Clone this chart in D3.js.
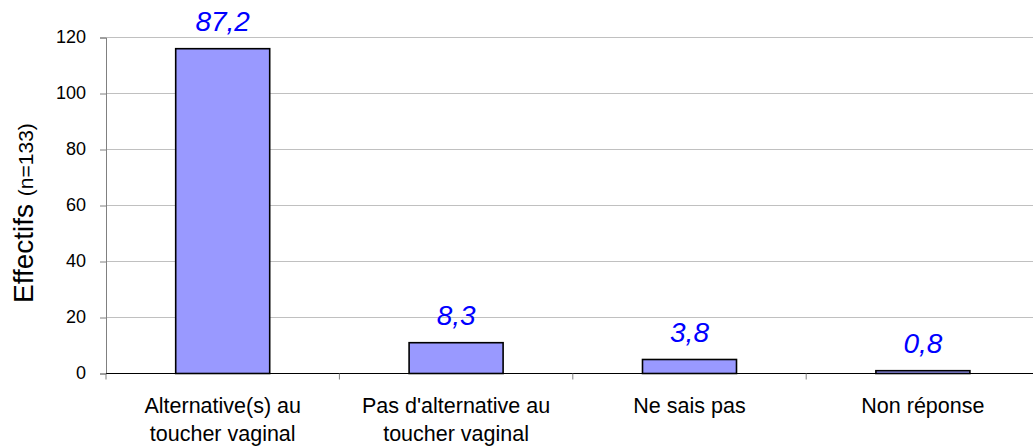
<!DOCTYPE html>
<html><head><meta charset="utf-8">
<script src="https://cdn.jsdelivr.net/npm/d3@7"></script>
<style>body{margin:0;background:#fff}svg{display:block}text{font-family:"Liberation Sans",Arial,sans-serif}</style>
</head><body><svg id="c" width="1033" height="448"></svg>
<script>
const categories = [["Alternative(s) au","toucher vaginal"],["Pas d'alternative au","toucher vaginal"],["Ne sais pas"],["Non réponse"]];
const counts = [116, 11, 5, 1];
const percentLabels = ["87,2","8,3","3,8","0,8"];
const yTicks = [0,20,40,60,80,100,120];

const svg = d3.select("#c");
const x0 = 106, bandW = 233.4, y0 = 373.5, yTop = 37.5;
const x = d3.scaleBand().domain(d3.range(categories.length)).range([x0, x0 + bandW*4]).paddingInner(0).paddingOuter(0);
const y = d3.scaleLinear().domain([0,120]).range([y0, yTop]);

// gridlines
svg.append("g").selectAll("line").data(yTicks.filter(d=>d>0)).join("line")
  .attr("x1", x0).attr("x2", 1033).attr("y1", d=>y(d)).attr("y2", d=>y(d))
  .attr("stroke", "#c0c0c0").attr("stroke-width", 1);

// y axis
const ya = svg.append("g").attr("transform", `translate(${x0},0)`)
  .call(d3.axisLeft(y).tickValues(yTicks).tickSize(6).tickPadding(14));
ya.select(".domain").attr("stroke", "#808080");
ya.selectAll(".tick line").attr("stroke", "#808080");
ya.selectAll("text").attr("font-size", 18).attr("fill", "#000").attr("dy", "0.3em").style("font-family", '"Liberation Sans",Arial,sans-serif');

// bars
const bw = 94;
svg.append("g").selectAll("rect").data(counts).join("rect")
  .attr("x", (d,i)=>x(i) + x.bandwidth()/2 - bw/2)
  .attr("width", bw)
  .attr("y", d=>y(d))
  .attr("height", d=>y0 - y(d))
  .attr("fill", "#9999ff").attr("stroke", "#000").attr("stroke-width", 1.6);

// x axis
const xa = svg.append("g").attr("transform", `translate(0,${y0})`);
xa.append("line").attr("x1", x0).attr("x2", 1033).attr("y1", 0).attr("y2", 0).attr("stroke", "#000").attr("stroke-width", 1);
xa.selectAll("line.t").data(d3.range(categories.length+1)).join("line").attr("class","t")
  .attr("x1", i=>x0 + i*x.step()).attr("x2", i=>x0 + i*x.step()).attr("y1", 0).attr("y2", 6)
  .attr("stroke", "#808080");

// category labels
svg.append("g").selectAll("text").data(categories).join("text")
  .attr("x", (d,i)=>x(i) + x.bandwidth()/2)
  .attr("y", 413)
  .attr("text-anchor", "middle").attr("font-size", 21.5).attr("fill", "#000")
  .each(function(d){
    const t = d3.select(this);
    d.forEach((line,k)=>t.append("tspan").attr("x", t.attr("x")).attr("dy", k===0?0:28).text(line));
  });

// value labels
svg.append("g").selectAll("text").data(counts).join("text")
  .attr("x", (d,i)=>x(i) + x.bandwidth()/2)
  .attr("y", d=>y(d) - 18)
  .attr("text-anchor", "middle").attr("font-size", 28).attr("font-style", "italic").attr("fill", "#0000ff")
  .text((d,i)=>percentLabels[i]);

// y title
const yt = svg.append("text").attr("transform", "translate(33,303) rotate(-90)").attr("text-anchor", "start").attr("fill", "#000");
yt.append("tspan").attr("font-size", 28).text("Effectifs ");
yt.append("tspan").attr("font-size", 21).text("(n=133)");
</script></body></html>
